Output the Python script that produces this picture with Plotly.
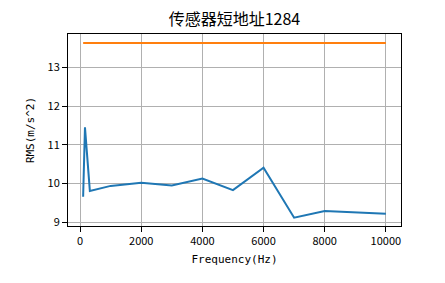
import plotly.graph_objects as go

freq = [100, 160, 320, 1000, 2000, 3000, 4000, 5000, 6000, 7000, 8000, 10000]
rms = [9.66, 11.45, 9.81, 9.94, 10.02, 9.95, 10.13, 9.83, 10.41, 9.12, 9.29, 9.22]
limit_x = [100, 10000]
limit_y = [13.63, 13.63]

title = "传感器短地址1284"
xlabel = "Frequency(Hz)"
ylabel = "RMS(m/s^2)"
xticks = [0, 2000, 4000, 6000, 8000, 10000]
xticklabels = ["0", "2000", "4000", "6000", "8000", "10000"]
yticks = [9, 10, 11, 12, 13]

font = "Noto Sans CJK SC, DejaVu Sans, sans-serif"
mono = "DejaVu Sans Mono, monospace"

fig = go.Figure()
fig.add_trace(go.Scatter(x=freq, y=rms, mode="lines", line=dict(color="#1f77b4", width=2), showlegend=False))
fig.add_trace(go.Scatter(x=limit_x, y=limit_y, mode="lines", line=dict(color="#ff7f0e", width=2), showlegend=False))

axis_common = dict(
    showline=True, linecolor="black", linewidth=1, mirror=True,
    ticks="outside", ticklen=5, tickcolor="black",
    showgrid=True, gridcolor="#b0b0b0", gridwidth=1,
    zeroline=False, tickfont=dict(size=11, color="black", family=font),
)

fig.update_layout(
    width=445, height=283,
    margin=dict(l=68, r=44, t=34, b=57),
    paper_bgcolor="white", plot_bgcolor="white",
    font=dict(family=font, color="black"),
    title=dict(text=title, x=0.527, xanchor="center", y=0.93, yanchor="middle",
               font=dict(size=16, color="black", family=font)),
    xaxis=dict(range=[-395, 10495], tickvals=xticks, ticktext=xticklabels,
               title=dict(text=xlabel, font=dict(size=11, family=mono), standoff=8), **axis_common),
    yaxis=dict(range=[8.905, 13.86], tickvals=yticks,
               title=dict(text=ylabel, font=dict(size=11, family=mono), standoff=10), **axis_common),
)

fig.write_html("out.html")
